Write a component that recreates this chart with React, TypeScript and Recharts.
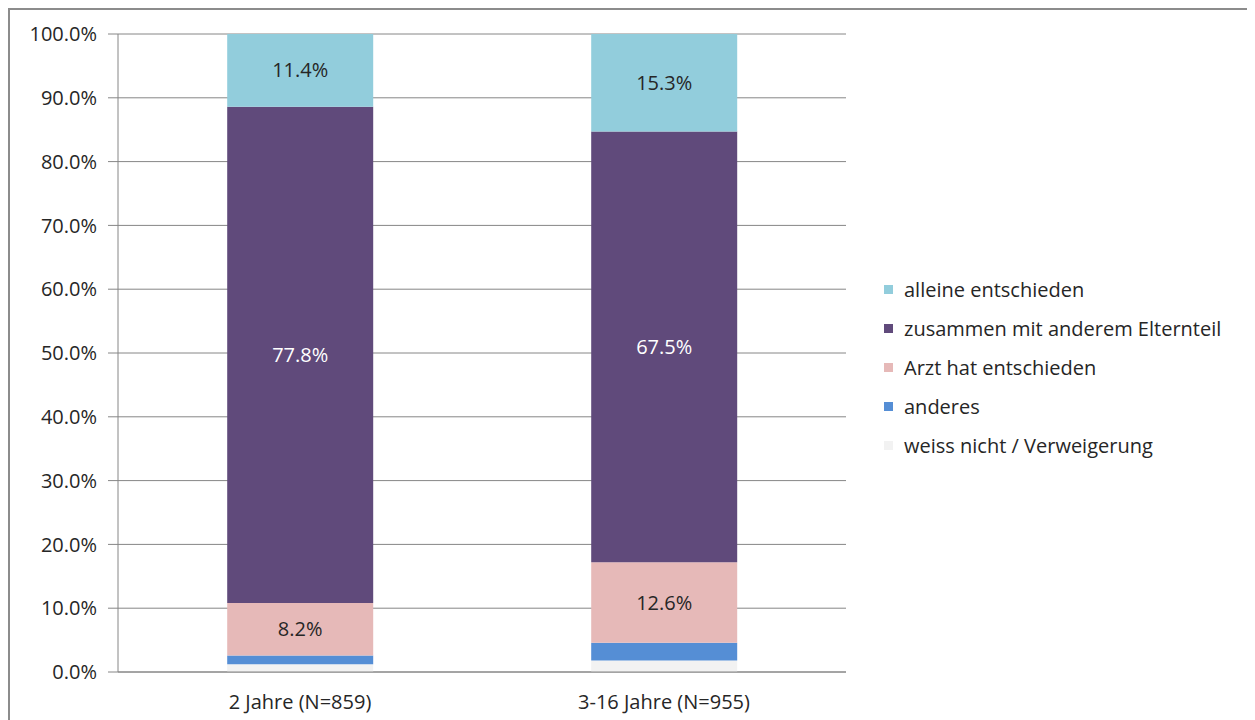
import React from 'react'
import { BarChart, Bar, XAxis, YAxis, CartesianGrid, Legend, LabelList } from 'recharts'

const categories = ['2 Jahre (N=859)', '3-16 Jahre (N=955)']
const weissNicht = [1.2, 1.8]
const anderes = [1.4, 2.8]
const arzt = [8.2, 12.6]
const zusammen = [77.8, 67.5]
const alleine = [11.4, 15.3]
const yTicks = [0, 10, 20, 30, 40, 50, 60, 70, 80, 90, 100]
const legendOrder = [
  'alleine entschieden',
  'zusammen mit anderem Elternteil',
  'Arzt hat entschieden',
  'anderes',
  'weiss nicht / Verweigerung',
]

const data = categories.map((name, i) => ({
  name,
  weissNicht: weissNicht[i],
  anderes: anderes[i],
  arzt: arzt[i],
  zusammen: zusammen[i],
  alleine: alleine[i],
}))

const FONT = '"Open Sans", sans-serif'
const FS = 20
const AXIS = '#868686'
const TEXT = '#262626'

const pct = (v: any) => `${Number(v).toFixed(1)}%`

function LegendContent({ payload }: any) {
  const items = [...(payload || [])].sort(
    (a: any, b: any) => legendOrder.indexOf(a.value) - legendOrder.indexOf(b.value)
  )
  return (
    <div style={{ paddingLeft: 38, fontFamily: FONT, fontSize: FS, color: TEXT }}>
      {items.map((it: any) => (
        <div key={it.value} style={{ display: 'flex', alignItems: 'center', height: 39 }}>
          <span style={{ width: 9, height: 9, background: it.color, marginRight: 11, display: 'inline-block' }} />
          <span style={{ whiteSpace: 'nowrap' }}>{it.value}</span>
        </div>
      ))}
    </div>
  )
}

export default function App() {
  return (
    <div style={{ width: 1239, height: 715, border: '2px solid #8c8c8c', background: '#fff' }}>
      <BarChart
        width={1239}
        height={715}
        data={data}
        margin={{ top: 24, right: 23, left: 0, bottom: 23 }}
        barCategoryGap="30%"
      >
        <CartesianGrid vertical={false} stroke={AXIS} />
        <XAxis
          xAxisId="edges"
          type="number"
          domain={[0, 2]}
          ticks={[0, 1, 2]}
          height={0}
          tick={false}
          axisLine={false}
          tickSize={6}
          tickLine={{ stroke: AXIS }}
        />
        <XAxis
          dataKey="name"
          tickLine={false}
          axisLine={{ stroke: AXIS }}
          tickMargin={17}
          height={30}
          tick={{ fill: TEXT, fontSize: FS, fontFamily: FONT }}
        />
        <YAxis
          width={108}
          domain={[0, 100]}
          ticks={yTicks}
          tickFormatter={pct}
          tickSize={10}
          tickMargin={11}
          axisLine={{ stroke: AXIS }}
          tickLine={{ stroke: AXIS }}
          tick={{ fill: TEXT, fontSize: FS, fontFamily: FONT }}
        />
        <Legend
          layout="vertical"
          align="right"
          verticalAlign="middle"
          width={380}
          content={<LegendContent />}
        />
        <Bar dataKey="weissNicht" name="weiss nicht / Verweigerung" stackId="a" fill="#F2F2F2" isAnimationActive={false} />
        <Bar dataKey="anderes" name="anderes" stackId="a" fill="#558ED5" isAnimationActive={false} />
        <Bar dataKey="arzt" name="Arzt hat entschieden" stackId="a" fill="#E6B9B8" isAnimationActive={false}>
          <LabelList dataKey="arzt" position="center" formatter={pct} fill={TEXT} fontSize={FS} fontFamily={FONT} />
        </Bar>
        <Bar dataKey="zusammen" name="zusammen mit anderem Elternteil" stackId="a" fill="#604A7B" isAnimationActive={false}>
          <LabelList dataKey="zusammen" position="center" formatter={pct} fill="#ffffff" fontSize={FS} fontFamily={FONT} />
        </Bar>
        <Bar dataKey="alleine" name="alleine entschieden" stackId="a" fill="#92CDDC" isAnimationActive={false}>
          <LabelList dataKey="alleine" position="center" formatter={pct} fill={TEXT} fontSize={FS} fontFamily={FONT} />
        </Bar>
      </BarChart>
    </div>
  )
}
